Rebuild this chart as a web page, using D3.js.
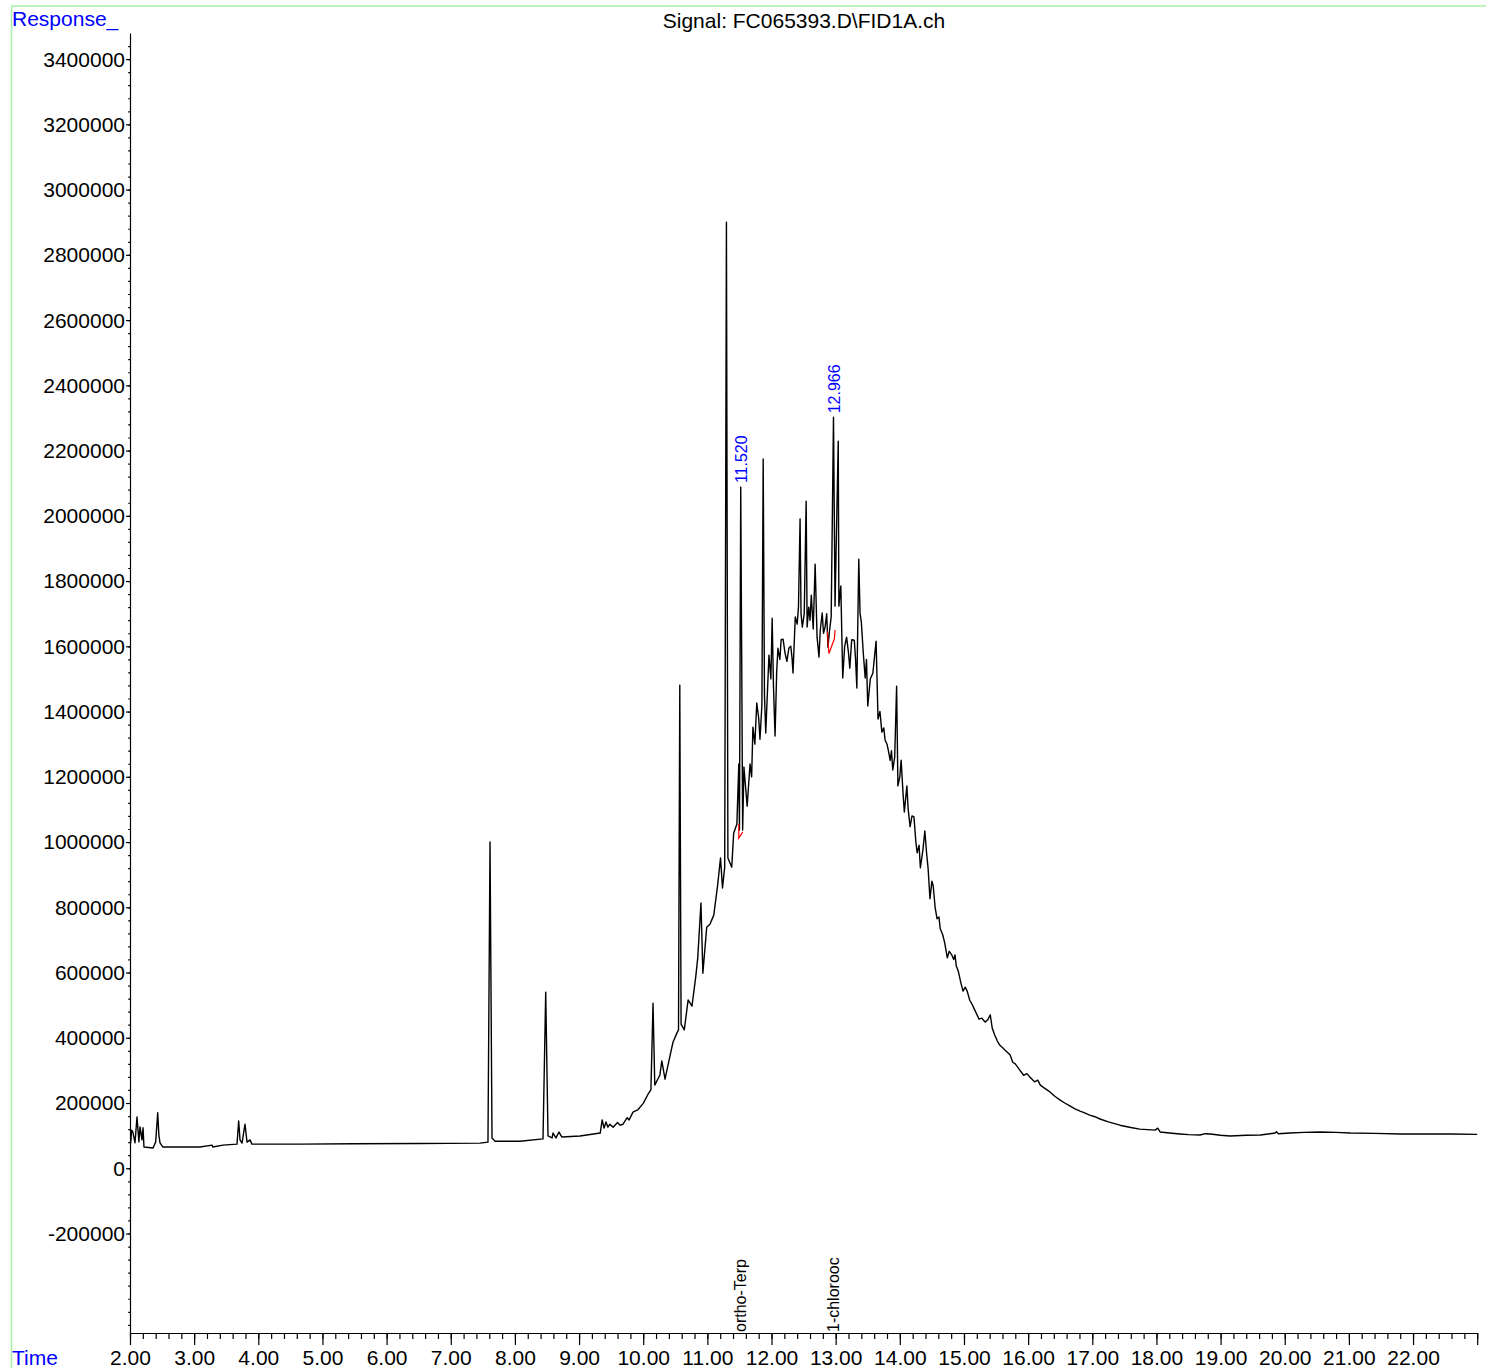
<!DOCTYPE html>
<html><head><meta charset="utf-8">
<script src="https://cdn.jsdelivr.net/npm/d3@7"></script>
<style>
body{margin:0;background:#fff}
svg{display:block}
text{font-family:"Liberation Sans",Arial,sans-serif}
</style>
</head><body>
<svg id="c" width="1486" height="1368"></svg>
<script>
// ---- data: [retention time (min), detector response] ----
const signalPoints = [
[2.00,80000],[2.011,78000],[2.026,117000],[2.045,111000],[2.078,78000],[2.109,157000],[2.139,81000],[2.156,127000],[2.187,87000],[2.203,124000],[2.218,65000],[2.359,62000],[2.40,80000],[2.432,170000],[2.45,102000],[2.468,78000],[2.514,65000],
[3.09,65000],[3.28,71000],[3.29,65000],[3.45,71000],[3.668,74000],[3.694,145000],[3.715,87000],[3.746,77000],[3.793,135000],[3.824,80000],[3.871,87000],[3.90,74000],
[4.65,74000],[5.5,75000],[6.5,76000],[7.456,77000],[7.58,80000],[7.612,1000000],[7.643,93000],[7.69,83000],[8.08,83000],[8.438,90000],[8.48,540000],[8.516,99000],
[8.58,93000],[8.594,108000],[8.64,93000],[8.687,111000],[8.73,96000],[9.015,99000],[9.33,108000],[9.36,148000],[9.39,123000],[9.42,142000],[9.45,126000],[9.48,135000],[9.53,126000],
[9.60,140000],[9.64,132000],[9.685,135000],[9.75,155000],[9.78,148000],[9.84,172000],[9.92,180000],[10.0,199000],[10.075,227000],[10.12,240000],[10.153,506000],[10.18,255000],
[10.26,286000],[10.29,329000],[10.34,273000],[10.42,347000],[10.465,387000],[10.527,415000],[10.55,424000],[10.57,1481000],[10.59,442000],[10.64,424000],[10.70,516000],[10.76,497000],
[10.82,589000],[10.85,645000],[10.90,813000],[10.93,598000],[10.99,739000],[11.04,748000],[11.10,776000],[11.16,868000],[11.205,951000],[11.236,859000],[11.27,923000],[11.297,2900000],
[11.32,951000],[11.38,923000],[11.41,1027000],[11.46,1055000],[11.49,1239000],[11.50,1037000],[11.52,2088000],[11.55,1037000],[11.57,1230000],[11.62,1110000],[11.665,1239000],[11.69,1200000],
[11.71,1352000],[11.74,1300000],[11.77,1426000],[11.80,1380000],[11.82,1315000],[11.85,1420000],[11.87,2174000],[11.89,1450000],[11.91,1334000],[11.96,1573000],[11.99,1500000],[12.01,1686000],
[12.03,1480000],[12.055,1325000],[12.08,1520000],[12.10,1594000],[12.13,1560000],[12.15,1620000],[12.18,1622000],[12.21,1580000],[12.24,1554000],[12.27,1594000],[12.30,1600000],[12.32,1564000],
[12.335,1518000],[12.37,1690000],[12.40,1668000],[12.42,1720000],[12.445,1990000],[12.46,1700000],[12.48,1659000],[12.51,1700000],[12.54,2045000],[12.555,1659000],[12.58,1720000],[12.60,1680000],
[12.62,1757000],[12.65,1653000],[12.68,1852000],[12.71,1628000],[12.74,1567000],[12.76,1650000],[12.79,1702000],[12.81,1640000],[12.835,1659000],[12.86,1700000],[12.88,1597000],[12.90,1640000],
[12.93,1690000],[12.966,2302000],[12.99,1723000],[13.04,2229000],[13.05,1723000],[13.08,1785000],[13.11,1503000],[13.14,1600000],[13.17,1628000],[13.20,1580000],[13.22,1533000],[13.25,1620000],
[13.29,1619000],[13.31,1560000],[13.33,1472000],[13.36,1867000],[13.38,1700000],[13.40,1674000],[13.43,1580000],[13.46,1503000],[13.48,1560000],[13.50,1417000],[13.54,1500000],[13.58,1518000],
[13.63,1616000],[13.66,1377000],[13.69,1400000],[13.72,1337000],[13.75,1350000],[13.77,1313000],[13.80,1300000],[13.82,1282000],[13.85,1250000],[13.87,1280000],[13.89,1221000],[13.92,1260000],
[13.95,1478000],[13.97,1172000],[14.00,1200000],[14.02,1251000],[14.05,1150000],[14.07,1092000],[14.11,1172000],[14.13,1100000],[14.16,1047000],[14.19,1080000],[14.22,1077000],[14.25,1000000],
[14.27,967000],[14.30,990000],[14.32,921000],[14.36,976000],[14.39,1034000],[14.42,960000],[14.44,921000],[14.47,826000],[14.50,880000],[14.52,866000],[14.55,800000],[14.58,765000],
[14.61,770000],[14.63,734000],[14.67,715000],[14.70,690000],[14.74,645000],[14.77,665000],[14.81,654000],[14.84,640000],[14.86,654000],[14.88,620000],[14.91,605000],[14.95,570000],
[14.985,543000],[15.02,555000],[15.05,543000],[15.09,515000],[15.125,503000],[15.18,480000],[15.235,457000],[15.28,460000],[15.33,448000],[15.37,455000],[15.41,470000],[15.44,430000],
[15.48,408000],[15.52,390000],[15.56,377000],[15.60,370000],[15.64,362000],[15.68,355000],[15.72,347000],[15.76,325000],[15.80,320000],[15.87,301000],[15.93,285000],[15.98,290000],
[16.03,279000],[16.10,265000],[16.15,270000],[16.19,255000],[16.26,245000],[16.34,234000],[16.42,220000],[16.50,209000],[16.57,200000],[16.65,191000],[16.73,182000],[16.81,175000],
[16.88,170000],[16.96,163000],[17.04,158000],[17.12,151000],[17.25,142000],[17.43,132000],[17.60,125000],[17.74,120000],[17.98,117000],[18.02,123000],[18.06,111000],[18.20,108000],
[18.37,105000],[18.50,103000],[18.68,102000],[18.76,106000],[18.84,105000],[19.00,101000],[19.15,99000],[19.40,101000],[19.62,102000],[19.85,108000],[19.87,112000],[19.90,106000],
[20.08,108000],[20.30,110000],[20.55,111000],[20.80,110000],[21.02,108000],[21.40,107000],[21.80,105000],[22.20,105000],[22.58,105000],[23.0,104000]
];

// integration baselines (red)
const base1T = [11.49, 11.49, 11.552];
const base1V = [1055000, 1012000, 1031000];
const base2T = [12.87, 12.895, 12.98, 12.99];
const base2V = [1646000, 1578000, 1623000, 1650000];

// identified peaks
const peakTimes = [11.520, 12.966];
const peakHeights = [2088000, 2302000];
const peakLabels = ["11.520", "12.966"];
const compoundNames = ["ortho-Terp", "1-chlorooc"];

// axis ticks
const yMajor = d3.range(-200000, 3400001, 200000);
const yMinor = d3.range(-480000, 3480000, 40000);
const xMajor = d3.range(2, 24, 1);
const xMinor = d3.range(0, 106, 1).map(i => 2 + i * 0.2);

const title = "Signal: FC065393.D\\FID1A.ch";

// ---- drawing ----
const svg = d3.select("#c");
const x = d3.scaleLinear().domain([2, 23]).range([130, 1477.2]);
const y = d3.scaleLinear().domain([-505000, 3480000]).range([1333, 33]);

// green frame
svg.append("line").attr("x1", 11.5).attr("x2", 1486).attr("y1", 6).attr("y2", 6)
  .attr("stroke", "#a6f0a6").attr("stroke-width", 1.5);
svg.append("line").attr("x1", 11.5).attr("x2", 11.5).attr("y1", 6).attr("y2", 1368)
  .attr("stroke", "#a6f0a6").attr("stroke-width", 1.5);

// y axis
const gy = svg.append("g").attr("transform", "translate(130,0)");
gy.append("g").call(d3.axisLeft(y).tickValues(yMinor).tickSize(1.8).tickSizeOuter(0).tickFormat(""))
  .call(g => g.select(".domain").remove());
gy.append("g").call(d3.axisLeft(y).tickValues(yMajor).tickSize(4).tickSizeOuter(0).tickPadding(1)
  .tickFormat(d => String(d)))
  .call(g => g.selectAll("text").attr("font-size", 21).attr("font-family", '"Liberation Sans",Arial,sans-serif').attr("fill", "#000").attr("dy", "0.33em"));
gy.selectAll("line,path").attr("stroke", "#000").attr("stroke-width", 1.2);

// x axis
const gx = svg.append("g").attr("transform", "translate(0,1333)");
gx.append("g").call(d3.axisBottom(x).tickValues(xMinor).tickSize(6).tickSizeOuter(0).tickFormat(""))
  .call(g => g.select(".domain").remove());
gx.append("g").call(d3.axisBottom(x).tickValues(xMajor).tickSize(12).tickSizeOuter(0)
  .tickFormat(d => d <= 22 ? d.toFixed(2) : ""))
  .call(g => g.selectAll("text").attr("font-size", 21).attr("font-family", '"Liberation Sans",Arial,sans-serif').attr("fill", "#000").attr("y", 32).attr("dy", "0"));
gx.selectAll("line,path").attr("stroke", "#000").attr("stroke-width", 1.2);

// signal trace
svg.append("path").datum(signalPoints)
  .attr("d", d3.line().x(d => x(d[0])).y(d => y(d[1])))
  .attr("fill", "none").attr("stroke", "#000").attr("stroke-width", 1.4).attr("stroke-linejoin", "round");

// integration baselines
[[base1T, base1V], [base2T, base2V]].forEach(([T, V]) => {
  svg.append("path").datum(T.map((t, i) => [t, V[i]]))
    .attr("d", d3.line().x(d => x(d[0])).y(d => y(d[1])))
    .attr("fill", "none").attr("stroke", "#ff0000").attr("stroke-width", 1.2);
});

// peak retention-time labels and compound names
peakTimes.forEach((t, i) => {
  const px = x(t) + 6.5, py = y(peakHeights[i]) - 4;
  svg.append("text").attr("transform", `translate(${px},${py}) rotate(-90)`)
    .attr("font-size", 16).attr("fill", "#0000ff").text(peakLabels[i]);
  const bx = x(t) + 5.5;
  svg.append("text").attr("transform", `translate(${bx},1332) rotate(-90)`)
    .attr("font-size", 16).attr("fill", "#000").text(compoundNames[i]);
});

// titles
svg.append("text").attr("x", 804).attr("y", 28).attr("text-anchor", "middle")
  .attr("font-size", 21).attr("fill", "#000").text(title);
svg.append("text").attr("x", 12).attr("y", 26).attr("font-size", 21).attr("fill", "#0000ff").text("Response_");
svg.append("text").attr("x", 12).attr("y", 1365).attr("font-size", 21).attr("fill", "#0000ff").text("Time");
</script>
</body></html>
